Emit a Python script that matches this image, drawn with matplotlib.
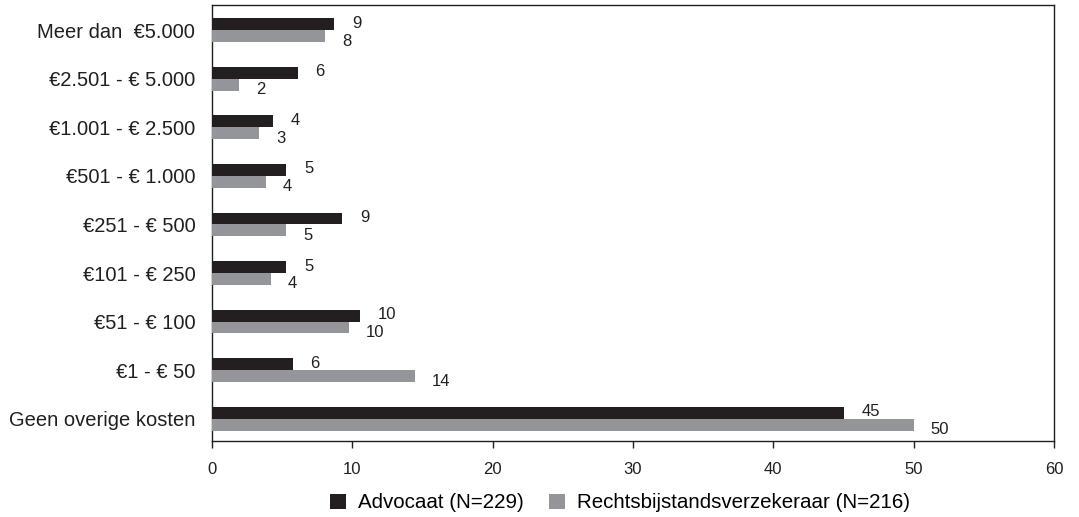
import matplotlib
matplotlib.use("Agg")
import matplotlib.pyplot as plt
from matplotlib.patches import Patch
import numpy as np

categories = ["Geen overige kosten", "€1 - € 50", "€51 - € 100", "€101 - € 250",
              "€251 - € 500", "€501 - € 1.000", "€1.001 - € 2.500",
              "€2.501 - € 5.000", "Meer dan  €5.000"]
advocaat = [45.0, 5.74, 10.55, 5.27, 9.25, 5.27, 4.32, 6.1, 8.68]
rechtsbijstand = [50.0, 14.45, 9.75, 4.2, 5.27, 3.84, 3.35, 1.92, 8.04]
advocaat_labels = ["45", "6", "10", "5", "9", "5", "4", "6", "9"]
rechtsbijstand_labels = ["50", "14", "10", "4", "5", "4", "3", "2", "8"]
series_names = ["Advocaat (N=229)", "Rechtsbijstandsverzekeraar (N=216)"]
xticks = [0, 10, 20, 30, 40, 50, 60]

plt.rcParams['font.family'] = ['Liberation Sans', 'DejaVu Sans']

BLACK = "#231f20"
GREY = "#939598"

fig = plt.figure(figsize=(10.79, 5.17), dpi=100)
ax = fig.add_axes([212/1079, 1-441/517, (1054-212)/1079, (441-5)/517])

y = np.arange(len(categories))
h = 0.245
ax.barh(y + h/2, advocaat, height=h, color=BLACK, zorder=3)
ax.barh(y - h/2, rechtsbijstand, height=h, color=GREY, zorder=3)

for yi, v, lab in zip(y, advocaat, advocaat_labels):
    ax.annotate(lab, xy=(v, yi + h/2), xytext=(18, 1), textcoords='offset pixels',
                ha='left', va='center', fontsize=12, color='#231f20')
for yi, v, lab in zip(y, rechtsbijstand, rechtsbijstand_labels):
    ax.annotate(lab, xy=(v, yi - h/2), xytext=(17, -5), textcoords='offset pixels',
                ha='left', va='center', fontsize=12, color='#231f20')

ax.set_xlim(0, 60)
ax.set_ylim(-0.46, 8.52)
ax.set_xticks(xticks)
ax.set_xticklabels([str(t) for t in xticks], fontsize=12, color='#231f20')
ax.set_yticks(y)
ax.set_yticklabels(categories, fontsize=14.5, color='#231f20')
ax.tick_params(axis='y', length=0, pad=12)
ax.tick_params(axis='x', length=5, width=1, direction='out', pad=10, color='#231f20')
for s in ax.spines.values():
    s.set_color('#231f20')
    s.set_linewidth(1)

handles = [Patch(facecolor=BLACK, edgecolor='none'), Patch(facecolor=GREY, edgecolor='none')]
fig.legend(handles, series_names, loc='center', bbox_to_anchor=(620/1079, 1-503/517),
           ncol=2, frameon=False, fontsize=14.8, handlelength=0.78, handleheight=0.78,
           handletextpad=0.55, columnspacing=1.25, borderpad=0, borderaxespad=0)

fig.savefig("out.png", dpi=100)
